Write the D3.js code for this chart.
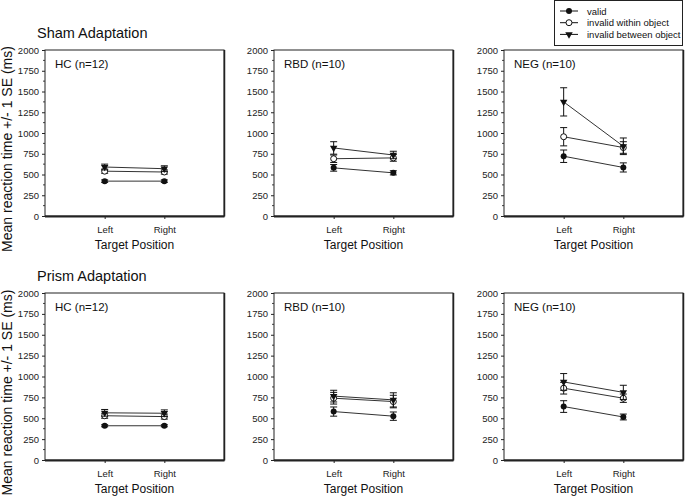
<!DOCTYPE html>
<html><head><meta charset="utf-8">
<script src="https://cdn.jsdelivr.net/npm/d3@7"></script>
<style>body{margin:0;background:#fff;}svg{display:block;font-family:"Liberation Sans",Arial,sans-serif;}</style>
</head><body><svg id="c" width="685" height="497"></svg>
<script>
const positions = ["Left", "Right"];
const seriesNames = ["valid", "invalid within object", "invalid between object"];
const groups = ["HC (n=12)", "RBD (n=10)", "NEG (n=10)"];
const conditions = ["Sham Adaptation", "Prism Adaptation"];
const yTicks = [0, 250, 500, 750, 1000, 1250, 1500, 1750, 2000];

// [group][position]
const shamValidMean = [[420, 420], [580, 520], [720, 585]];
const shamValidSE = [[15, 15], [40, 25], [75, 55]];
const shamWithinMean = [[540, 530], [690, 700], [955, 825]];
const shamWithinSE = [[25, 25], [45, 40], [110, 70]];
const shamBetweenMean = [[590, 570], [820, 735], [1375, 840]];
const shamBetweenSE = [[35, 35], [75, 45], [170, 100]];

const prismValidMean = [[410, 410], [580, 525], [640, 515]];
const prismValidSE = [[12, 12], [55, 50], [70, 35]];
const prismWithinMean = [[530, 520], [740, 700], [860, 740]];
const prismWithinSE = [[30, 30], [70, 75], [70, 50]];
const prismBetweenMean = [[565, 560], [765, 720], [935, 810]];
const prismBetweenSE = [[40, 40], [70, 85], [100, 85]];

const condData = [
  [[shamValidMean, shamValidSE], [shamWithinMean, shamWithinSE], [shamBetweenMean, shamBetweenSE]],
  [[prismValidMean, prismValidSE], [prismWithinMean, prismWithinSE], [prismBetweenMean, prismBetweenSE]]
];

const svg = d3.select("#c");
const panelX = [45, 274, 504];
const panelW = 179;
const rowTop = [50, 293];
const rowBottom = [216, 460];
const ink = "#111";

function marker(g, type, x, y) {
  if (type === 0) {
    g.append("circle").attr("cx", x).attr("cy", y).attr("r", 3).attr("fill", ink);
  } else if (type === 1) {
    g.append("circle").attr("cx", x).attr("cy", y).attr("r", 3).attr("fill", "#fff").attr("stroke", ink).attr("stroke-width", 1);
  } else {
    g.append("path").attr("d", d3.symbol(d3.symbolTriangle, 24)()).attr("transform", `translate(${x},${y}) rotate(180)`).attr("fill", ink);
  }
}

conditions.forEach((cond, r) => {
  const top = rowTop[r], bottom = rowBottom[r];
  const y = d3.scaleLinear().domain([0, 2000]).range([bottom, top]);

  svg.append("text").attr("x", 37).attr("y", top - 12).attr("font-size", 14.5).attr("fill", ink).text(cond);
  svg.append("text").attr("transform", `translate(12,${(top + bottom) / 2 + 16}) rotate(-90)`)
    .attr("text-anchor", "middle").attr("font-size", 14).attr("fill", ink).text("Mean reaction time +/- 1 SE (ms)");

  groups.forEach((gname, gi) => {
    const x0 = panelX[gi];
    const x = d3.scalePoint().domain(positions).range([x0, x0 + panelW]).padding(1);
    const g = svg.append("g");

    const minor = d3.range(125, 2000, 250);
    g.selectAll(".mn").data(minor).enter().append("line")
      .attr("x1", x0 - 2).attr("x2", x0).attr("y1", d => y(d)).attr("y2", d => y(d)).attr("stroke", "#444").attr("stroke-width", 1);

    const yAxis = d3.axisLeft(y).tickValues(yTicks).tickSize(3).tickPadding(3).tickFormat(d3.format("d"));
    const ya = g.append("g").attr("transform", `translate(${x0},0)`).call(yAxis);
    ya.select(".domain").remove();
    ya.selectAll("text").attr("font-size", 9.5).attr("fill", "#222").attr("font-family", "Liberation Sans, Arial, sans-serif");
    ya.selectAll("line").attr("stroke", "#222");

    const xAxis = d3.axisBottom(x).tickSize(3).tickPadding(7);
    const xa = g.append("g").attr("transform", `translate(0,${bottom})`).call(xAxis);
    xa.select(".domain").remove();
    xa.selectAll("text").attr("font-size", 9.5).attr("fill", "#222").attr("font-family", "Liberation Sans, Arial, sans-serif");
    xa.selectAll("line").attr("stroke", "#222");

    g.append("rect").attr("x", x0).attr("y", top).attr("width", panelW).attr("height", bottom - top)
      .attr("fill", "none").attr("stroke", "#222").attr("stroke-width", 1);
    g.append("line").attr("x1", x0).attr("x2", x0 + panelW + 0.5).attr("y1", bottom + 0.5).attr("y2", bottom + 0.5).attr("stroke", "#222").attr("stroke-width", 1.8);
    g.append("line").attr("x1", x0 + panelW + 0.5).attr("x2", x0 + panelW + 0.5).attr("y1", top).attr("y2", bottom + 0.5).attr("stroke", "#222").attr("stroke-width", 1.5);

    g.append("text").attr("x", x0 + 10).attr("y", top + 18).attr("font-size", 11.5).attr("fill", ink).text(gname);

    g.append("text").attr("x", x0 + panelW / 2).attr("y", bottom + 33).attr("text-anchor", "middle")
      .attr("font-size", 12).attr("fill", ink).text("Target Position");

    condData[r].forEach(([means, ses], si) => {
      const m = means[gi], s = ses[gi];
      const line = d3.line().x((d, i) => x(positions[i])).y(d => y(d));
      g.append("path").attr("d", line(m)).attr("fill", "none").attr("stroke", "#333").attr("stroke-width", 1);
      m.forEach((v, i) => {
        const px = x(positions[i]);
        g.append("line").attr("x1", px).attr("x2", px).attr("y1", y(v - s[i])).attr("y2", y(v + s[i])).attr("stroke", ink).attr("stroke-width", 1);
        [v - s[i], v + s[i]].forEach(e => {
          g.append("line").attr("x1", px - 3.5).attr("x2", px + 3.5).attr("y1", y(e)).attr("y2", y(e)).attr("stroke", ink).attr("stroke-width", 1);
        });
      });
      m.forEach((v, i) => marker(g, si, x(positions[i]), y(v)));
    });
  });
});

const lg = svg.append("g");
lg.append("rect").attr("x", 554.5).attr("y", 0.5).attr("width", 128).attr("height", 45).attr("fill", "#fff").attr("stroke", "#222").attr("stroke-width", 1);
seriesNames.forEach((name, i) => {
  const ly = 11 + i * 11.7;
  lg.append("line").attr("x1", 560).attr("x2", 578).attr("y1", ly).attr("y2", ly).attr("stroke", ink).attr("stroke-width", 1);
  marker(lg, i, 569, ly);
  lg.append("text").attr("x", 587).attr("y", ly + 3.5).attr("font-size", 9.5).attr("fill", ink).text(name);
});
</script></body></html>
